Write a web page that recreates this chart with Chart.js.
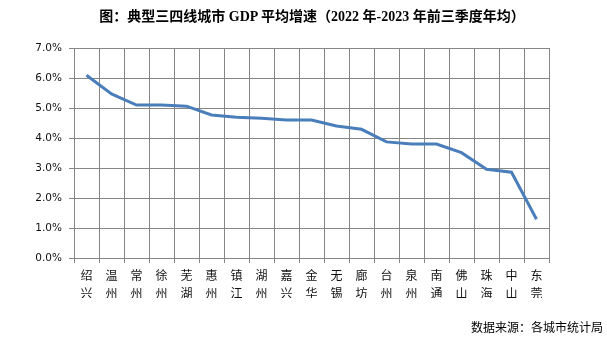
<!DOCTYPE html>
<html>
<head>
<meta charset="utf-8">
<script src="https://cdn.jsdelivr.net/npm/chart.js@4/dist/chart.umd.min.js"></script>
<style>
  html, body { margin: 0; padding: 0; background: #fff; }
  #wrap { position: relative; width: 607px; height: 341px; overflow: hidden; }
  #title { position: absolute; left: 0; width: 624px; top: 8px; text-align: center;
    font: bold 14px "Liberation Serif", "Noto Sans CJK SC", serif; color: #000; line-height: 18px; white-space: nowrap; }
  #source { position: absolute; right: 4px; top: 319px; font: 12px "Noto Sans CJK SC", sans-serif; color: #000; line-height: 16px; white-space: nowrap; }
  canvas { position: absolute; left: 0; top: 0; }
</style>
</head>
<body>
<div id="wrap">
  <canvas id="c" width="607" height="341"></canvas>
  <div id="title">图：典型三四线城市 GDP 平均增速（2022 年-2023 年前三季度年均）</div>
  <div id="source">数据来源：各城市统计局</div>
</div>
<script>
const cities = ['绍兴','温州','常州','徐州','芜湖','惠州','镇江','湖州','嘉兴','金华','无锡','廊坊','台州','泉州','南通','佛山','珠海','中山','东莞'];
const growth = [6.09, 5.47, 5.10, 5.10, 5.06, 4.77, 4.69, 4.66, 4.60, 4.60, 4.40, 4.29, 3.87, 3.80, 3.80, 3.51, 2.96, 2.86, 1.29];
const yMin = 0, yMax = 7, yStep = 1;

const gridColor = '#868686';
new Chart(document.getElementById('c'), {
  type: 'line',
  data: {
    labels: cities.map(c => c.split('')),
    datasets: [{
      data: growth,
      borderColor: '#4a7ebb',
      borderWidth: 3,
      pointRadius: 0,
      tension: 0,
      fill: false
    }]
  },
  options: {
    responsive: false,
    animation: false,
    devicePixelRatio: 1,
    layout: { padding: { top: 48, left: 0, right: 58, bottom: 43 } },
    plugins: { legend: { display: false }, tooltip: { enabled: false }, title: { display: false } },
    scales: {
      x: {
        offset: true,
        grid: { offset: true, color: gridColor, lineWidth: 1, tickLength: 5, drawOnChartArea: true },
        border: { color: gridColor, width: 1 },
        ticks: { color: '#111', font: { family: '"Noto Sans CJK SC", sans-serif', size: 12, lineHeight: 1.5 }, padding: 3, maxRotation: 0, autoSkip: false },
        afterFit: s => { s.height = 40; }
      },
      y: {
        min: yMin, max: yMax,
        grid: { color: gridColor, lineWidth: 1, tickLength: 5 },
        border: { color: gridColor, width: 1 },
        ticks: { stepSize: yStep, color: '#111', font: { family: '"DejaVu Sans", sans-serif', size: 10.5 }, padding: 7,
          callback: v => v.toFixed(1) + '%' },
        afterFit: s => { s.width = 74; }
      }
    }
  }
});
</script>
</body>
</html>
